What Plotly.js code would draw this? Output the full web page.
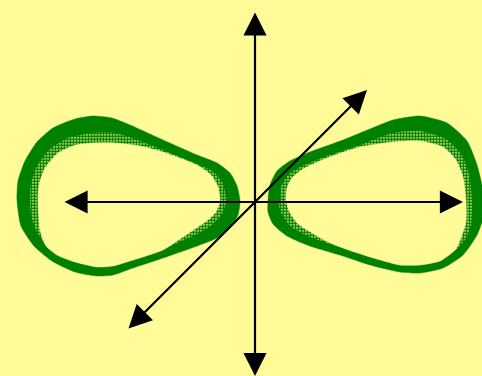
<!DOCTYPE html>
<html>
<head>
<meta charset="utf-8">
<script src="https://cdn.plot.ly/plotly-3.0.1.min.js"></script>
<style>
  html, body { margin: 0; padding: 0; background: #FFFB99; }
  #chart { width: 482px; height: 376px; }
</style>
</head>
<body>
<div id="chart"></div>
<script>
// Orbit bands of the two lobes in screen-sized units (x right, y down).
// Outer edge, inner edge of the dense band, inner edge of the scattered points.
const leftOuterX = [17, 18, 25, 37, 53, 75, 93, 112, 130, 163, 197, 217, 230, 237, 240, 238, 230, 217, 197, 163, 130, 113, 97, 75, 52, 34, 21, 17];
const leftOuterY = [200, 181, 161, 142, 128, 119, 116, 118, 125, 140, 155, 163, 173, 186, 201, 215, 228, 238, 246, 258, 269, 275, 276, 272, 261, 246, 226, 200];
const leftDenseX = [30, 31, 37, 50, 68, 93, 115, 135, 163, 197, 214, 223, 226, 222, 212, 197, 163, 130, 113, 97, 75, 57, 45, 36, 31, 30];
const leftDenseY = [200, 184, 166, 149, 138, 133, 133, 139, 150, 164, 172, 184, 201, 214, 225, 234, 249, 260, 265, 266, 262, 254, 244, 230, 215, 200];
const leftSpeckX = [38, 39, 45, 58, 76, 93, 115, 140, 163, 197, 211, 218, 220, 216, 208, 195, 180, 163, 130, 113, 97, 75, 57, 46, 40, 38];
const leftSpeckY = [200, 185, 168, 153, 145, 143, 143, 146, 152, 165, 175, 187, 201, 212, 220, 229, 239, 250, 261, 266, 267, 262, 255, 246, 230, 200];

const rightOuterX = [268, 270, 277, 290, 310, 343, 370, 393, 420, 447, 467, 477, 483, 483, 477, 463, 443, 420, 400, 370, 343, 310, 287, 273, 268, 268];
const rightOuterY = [201, 185, 171, 161, 152, 140, 129, 120, 116, 123, 141, 165, 191, 218, 235, 255, 268, 273, 272, 265, 256, 246, 236, 224, 212, 201];
const rightDenseX = [280, 281, 288, 300, 327, 360, 393, 420, 446, 461, 469, 472, 471, 466, 456, 440, 420, 400, 370, 343, 310, 290, 282, 279, 280];
const rightDenseY = [200, 187, 175, 167, 156, 145, 133, 131, 139, 154, 174, 201, 225, 238, 250, 261, 265, 264, 257, 248, 237, 226, 214, 206, 200];
const rightSpeckX = [286, 287, 292, 303, 327, 360, 393, 420, 443, 456, 463, 466, 466, 462, 456, 440, 420, 400, 370, 343, 328, 312, 297, 289, 286];
const rightSpeckY = [200, 188, 178, 169, 158, 147, 142, 141, 147, 160, 177, 201, 222, 235, 249, 261, 265, 265, 257, 248, 242, 233, 223, 211, 200];

// Coordinate arrows, one tip at each end.
const arrowNames = ['vertical', 'horizontal', 'diagonal'];
const arrowX1 = [255, 63, 127];
const arrowY1 = [11, 202, 330];
const arrowX2 = [255, 463, 367];
const arrowY2 = [376, 202, 90];

const bg = '#FFFB99';
const green = '#008000';

function band(x, y, color, pattern) {
  const t = {
    x: x, y: y, type: 'scatter', mode: 'lines',
    fill: 'toself', fillcolor: color,
    line: { color: color, width: 0.5, shape: 'spline', smoothing: 0.6 },
    hoverinfo: 'skip', showlegend: false
  };
  if (pattern) {
    t.fillpattern = { shape: '.', fgcolor: green, bgcolor: bg, size: 3, solidity: 0.75, fillmode: 'replace' };
    t.line.color = 'rgba(0,0,0,0)';
  }
  return t;
}

const data = [
  band(leftOuterX, leftOuterY, green),
  band(leftDenseX, leftDenseY, bg, true),
  band(leftSpeckX, leftSpeckY, bg),
  band(rightOuterX, rightOuterY, green),
  band(rightDenseX, rightDenseY, bg, true),
  band(rightSpeckX, rightSpeckY, bg)
];

const annotations = arrowNames.map((name, i) => ({
  x: arrowX2[i], y: arrowY2[i], ax: arrowX1[i], ay: arrowY1[i],
  xref: 'x', yref: 'y', axref: 'x', ayref: 'y',
  text: '', showarrow: true,
  arrowside: 'end+start',
  arrowhead: 2, startarrowhead: 2,
  arrowsize: 2.1, startarrowsize: 2.1,
  arrowwidth: 2.2, arrowcolor: '#000000',
  standoff: 0, startstandoff: 0
}));

const layout = {
  width: 482, height: 376,
  margin: { l: 0, r: 0, t: 0, b: 0, pad: 0 },
  paper_bgcolor: bg, plot_bgcolor: bg,
  xaxis: { range: [0, 482], visible: false, fixedrange: true },
  yaxis: { range: [376, 0], visible: false, fixedrange: true },
  annotations: annotations,
  showlegend: false
};

Plotly.newPlot('chart', data, layout, { displayModeBar: false, staticPlot: true });
</script>
</body>
</html>
